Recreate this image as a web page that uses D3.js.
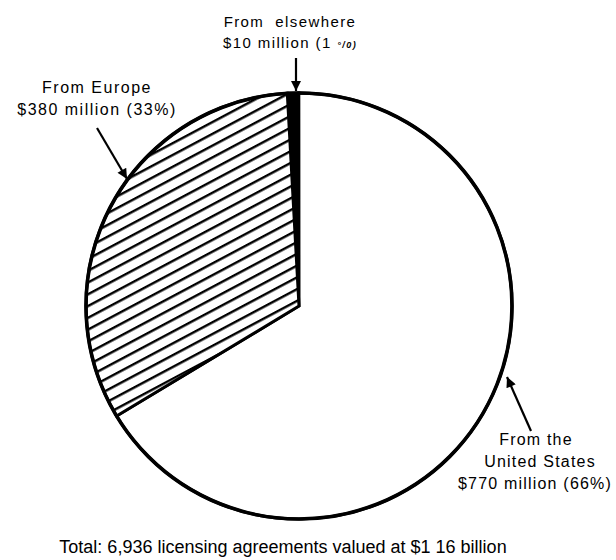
<!DOCTYPE html>
<html>
<head>
<meta charset="utf-8">
<script src="https://cdn.jsdelivr.net/npm/d3@7"></script>
<style>
  body { margin: 0; background: #fff; }
  text { font-family: Arial, "Liberation Sans", Helvetica, sans-serif; fill: #000; }
</style>
</head>
<body>
<svg width="616" height="560"></svg>
<script>
// Licensing agreements by source, $ million
var sources = ["elsewhere", "United States", "Europe"];
var values = [10, 770, 380];
var percents = [1, 66, 33];
var totalLine = "Total: 6,936 licensing agreements valued at $1 16 billion";

var svg = d3.select("svg");
var cx = 299, cy = 306, r = 213;

// hatch pattern for Europe
var defs = svg.append("defs");
var pat = defs.append("pattern")
    .attr("id", "hatch")
    .attr("patternUnits", "userSpaceOnUse")
    .attr("width", 20)
    .attr("height", 10.4)
    .attr("patternTransform", "rotate(-28)");
pat.append("rect").attr("width", 20).attr("height", 10.4).attr("fill", "#fff");
pat.append("line")
    .attr("x1", 0).attr("x2", 20)
    .attr("y1", 5).attr("y2", 5)
    .attr("stroke", "#000").attr("stroke-width", 2.4);

// arrowhead
defs.append("marker")
    .attr("id", "arrow")
    .attr("viewBox", "0 0 10 10")
    .attr("refX", 10).attr("refY", 5)
    .attr("markerWidth", 7.5).attr("markerHeight", 4.6)
    .attr("markerUnits", "strokeWidth")
    .attr("orient", "auto")
  .append("path")
    .attr("d", "M0,0L10,5L0,10Z")
    .attr("fill", "#000");

var fills = ["#000", "#fff", "url(#hatch)"];

var start = -0.055;
var pie = d3.pie().sort(null).startAngle(start).endAngle(2 * Math.PI + start);
var arc = d3.arc().innerRadius(0).outerRadius(r);

var g = svg.append("g").attr("transform", "translate(" + cx + "," + cy + ")");

g.selectAll("path.slice")
  .data(pie(values))
  .enter().append("path")
    .attr("class", "slice")
    .attr("d", arc)
    .attr("fill", function(d, i) { return fills[i]; })
    .attr("stroke", "#000")
    .attr("stroke-width", 3)
    .attr("stroke-linejoin", "miter");

g.append("circle")
    .attr("r", r)
    .attr("fill", "none")
    .attr("stroke", "#000")
    .attr("stroke-width", 3.6);

// arrows
var arrows = [
  [[296, 58], [296, 91]],
  [[97, 128], [127, 179]],
  [[531, 431], [507, 377]]
];
svg.selectAll("line.arrow")
  .data(arrows)
  .enter().append("line")
    .attr("class", "arrow")
    .attr("x1", function(d) { return d[0][0]; })
    .attr("y1", function(d) { return d[0][1]; })
    .attr("x2", function(d) { return d[1][0]; })
    .attr("y2", function(d) { return d[1][1]; })
    .attr("stroke", "#000")
    .attr("stroke-width", 2.2)
    .attr("marker-end", "url(#arrow)");

var fmt = function(i) { return "$" + values[i] + " million (" + percents[i]; };

// From elsewhere
var t0 = svg.append("text")
    .attr("text-anchor", "middle")
    .attr("font-size", 15).attr("letter-spacing", 1.4)
    .style("white-space", "pre");
t0.append("tspan").attr("x", 290).attr("y", 27).text("From  " + sources[0]);
var l0 = t0.append("tspan").attr("x", 290).attr("y", 48).text(fmt(0) + " ");
l0.append("tspan").attr("font-size", 9).attr("font-style", "italic").attr("font-weight", "bold").text("°/0)");

// From Europe
var t2 = svg.append("text")
    .attr("text-anchor", "middle")
    .attr("font-size", 16).attr("letter-spacing", 1.5);
t2.append("tspan").attr("x", 97).attr("y", 93).text("From " + sources[2]);
t2.append("tspan").attr("x", 97).attr("y", 115).text(fmt(2) + "%)");

// From the United States
var t1 = svg.append("text")
    .attr("text-anchor", "middle")
    .attr("font-size", 16).attr("letter-spacing", 1.2);
t1.append("tspan").attr("x", 536).attr("y", 445).text("From the");
t1.append("tspan").attr("x", 540).attr("y", 467).text(sources[1]);
t1.append("tspan").attr("x", 535).attr("y", 489).text(fmt(1) + "%)");

// total
svg.append("text")
    .attr("x", 283).attr("y", 553)
    .attr("text-anchor", "middle")
    .attr("font-size", 18)
    .text(totalLine);
</script>
</body>
</html>
